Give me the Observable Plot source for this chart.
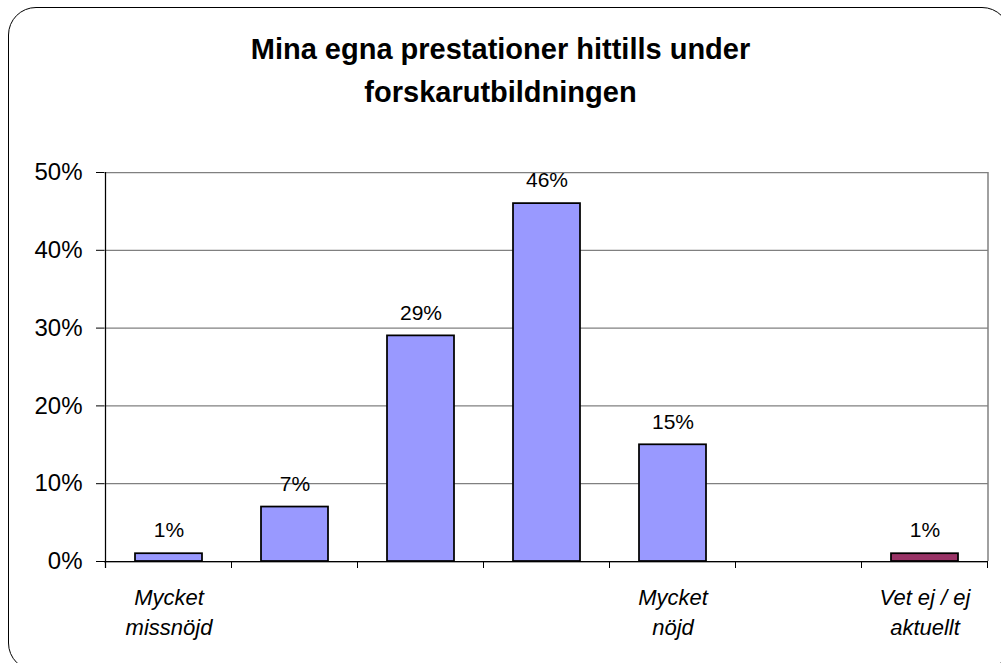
<!DOCTYPE html>
<html><head><meta charset="utf-8">
<script src="https://cdn.jsdelivr.net/npm/d3@7"></script>
<script src="https://cdn.jsdelivr.net/npm/@observablehq/plot@0.6"></script>
<style>
html,body{margin:0;padding:0;background:#fff;overflow:hidden}
#wrap{position:relative;width:1001px;height:663px;overflow:hidden;font-family:"Liberation Sans",Arial,sans-serif;background:#fff}
#frame{position:absolute;left:8px;top:7px;width:1002px;height:664px;border:1.25px solid #000;border-radius:28px;box-sizing:border-box;pointer-events:none}
#title{position:absolute;left:0;top:28px;width:1001px;text-align:center;font-weight:bold;font-size:29px;line-height:43px;color:#000}
#chart{position:absolute;left:0;top:130px}
#chart svg{background:transparent}
</style></head><body>
<div id="wrap">
<div id="title">Mina egna prestationer hittills under<br>forskarutbildningen</div>
<div id="chart"></div>
<div id="frame"></div>
</div>
<script>
const categories = ["1","2","3","4","5","6","7"];
const tickLabels = ["Mycket\nmissnöjd","","","","Mycket\nnöjd","","Vet ej / ej\naktuellt"];
const values = [0.01, 0.07, 0.29, 0.46, 0.15, null, 0.01];
const valueLabels = ["1%","7%","29%","46%","15%","","1%"];
const yTicks = [0, 0.1, 0.2, 0.3, 0.4, 0.5];
const yTickLabels = ["0%","10%","20%","30%","40%","50%"];

const data = categories.map((c, i) => ({cat: c, value: values[i], label: valueLabels[i], tick: tickLabels[i]}));
const bars = data.filter(d => d.value != null);
const lastCat = categories[categories.length - 1];

function decor(index, scales, vals, dim) {
  const x = scales.x, y = scales.y;
  const step = x(categories[1]) - x(categories[0]);
  const bw = typeof x.bandwidth === "function" ? x.bandwidth() : (x.bandwidth ?? step * 0.53);
  const y0 = y(0), yTop = y(0.5);
  const g = d3.create("svg:g");
  const xr = dim.width - dim.marginRight;
  g.append("line").attr("x1", xr).attr("x2", xr).attr("y1", yTop).attr("y2", y0)
    .attr("stroke", "#808080").attr("stroke-width", 1.5);
  const bounds = categories.map(c => x(c) + bw / 2 - step / 2);
  bounds.push(bounds[bounds.length - 1] + step);
  for (const b of bounds) {
    g.append("line").attr("x1", b).attr("x2", b).attr("y1", y0).attr("y2", y0 + 7)
      .attr("stroke", "#000").attr("stroke-width", 1);
  }
  g.append("line").attr("x1", bounds[0]).attr("x2", bounds[0]).attr("y1", yTop).attr("y2", y0 + 7)
    .attr("stroke", "#000").attr("stroke-width", 1.25);
  return g.node();
}

const chart = Plot.plot({
  width: 1001,
  height: 533,
  marginTop: 42,
  marginBottom: 102,
  marginLeft: 104,
  marginRight: 13,
  style: {fontFamily: "'Liberation Sans', Arial, sans-serif", background: "transparent", color: "#000"},
  x: {domain: categories, paddingInner: 0.47, paddingOuter: 0.235, axis: null},
  y: {domain: [0, 0.5], axis: null},
  marks: [
    Plot.gridY(yTicks, {stroke: "#808080", strokeOpacity: 1, strokeWidth: 1.25}),
    Plot.axisY(yTicks, {tickSize: 8, tickPadding: 14, fontSize: 24, stroke: "#000",
      tickFormat: (d, i) => yTickLabels[i], label: null}),
    Plot.barY(bars.filter(d => d.cat !== lastCat), {x: "cat", y: "value", fill: "#9999FF", stroke: "#000", strokeWidth: 1.75}),
    Plot.barY(bars.filter(d => d.cat === lastCat), {x: "cat", y: "value", fill: "#993366", stroke: "#000", strokeWidth: 1.75}),
    Plot.ruleY([0], {stroke: "#000", strokeWidth: 1.25}),
    decor,
    Plot.text(bars, {x: "cat", y: "value", text: "label", dy: -23, fontSize: 21, fill: "#000"}),
    Plot.text(data, {x: "cat", frameAnchor: "bottom", text: "tick", lineAnchor: "top", dy: 22,
      fontSize: 22, fontStyle: "italic", lineHeight: 1.38, fill: "#000"})
  ]
});
document.getElementById("chart").appendChild(chart);
</script>
</body></html>
